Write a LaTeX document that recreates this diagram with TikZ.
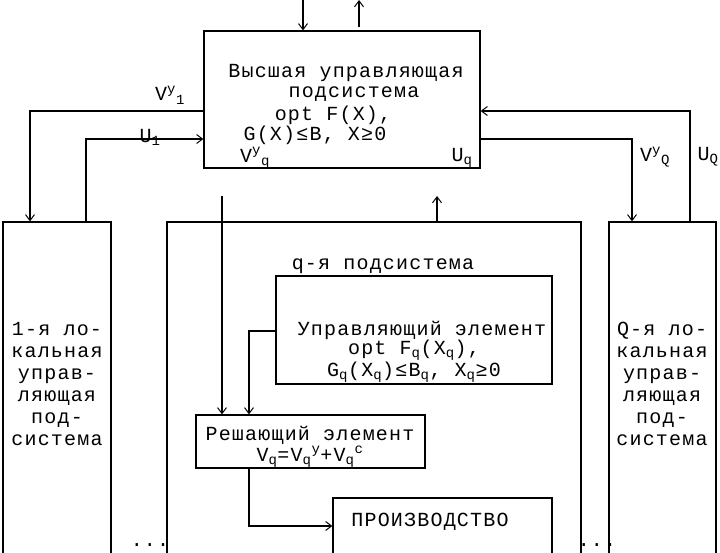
\documentclass[tikz,border=0pt]{standalone}
\usepackage{fontspec}
\setmainfont{Liberation Mono}[LetterSpace=6]
\usetikzlibrary{arrows.meta,calc}
\begin{document}
\begin{tikzpicture}[x=1pt,y=-1pt,line width=1.2pt,
  box/.style={draw,rectangle,inner sep=0pt},
  txt/.style={inner sep=0pt,font=\fontsize{20}{22}\selectfont,align=center},
  arr/.style={-{Straight Barb[length=6pt,width=9pt,line width=1pt]}}]
\useasboundingbox (0,0) rectangle (720,553);
\clip (0,0) rectangle (720,553);
\node[box,minimum width=276pt,minimum height=137pt] (top) at (342,99.5) {};
\node[box,minimum width=108pt,minimum height=360pt] (L) at (57,402) {};
\node[box,minimum width=107pt,minimum height=360pt] (R) at (662.5,402) {};
\node[box,minimum width=414pt,minimum height=360pt] (M) at (374,402) {};
\node[box,minimum width=276pt,minimum height=108pt] (C) at (414,330) {};
\node[box,minimum width=229pt,minimum height=53pt] (D) at (310.5,441.5) {};
\node[box,minimum width=219pt,minimum height=80pt] (P) at (442.5,538) {};
% texts
\node[txt] (t1) at (346,73) {Высшая управляющая};
\node[txt] (t2) at (354,94) {подсистема};
\node[txt] (t3) at (333,115) {opt F(X),};
\node[txt] (t4) at (315,135) {G(X)≤B, X≥0};
\node[txt] (vy1) at (170,95) {V\textsuperscript{y}\textsubscript{1}};
\node[txt] (u1) at (150,137) {U\textsubscript{1}};
\node[txt] (vyq) at (255,158) {V\textsuperscript{y}\textsubscript{q}};
\node[txt] (uq) at (462,158) {U\textsubscript{q}};
\node[txt] (vyQ) at (655,157) {V\textsuperscript{y}\textsubscript{Q}};
\node[txt] (uQ) at (708,157) {U\textsubscript{Q}};
\node[txt] (lt) at (57,384) {1-я ло-\\кальная\\управ-\\ляющая\\под-\\система};
\node[txt] (rt) at (662,384) {Q-я ло-\\кальная\\управ-\\ляющая\\под-\\система};
\node[txt] (qs) at (383,266) {q-я подсистема};
\node[txt] (c1) at (422,330) {Управляющий элемент};
\node[txt] (c2) at (414,350) {opt F\textsubscript{q}(X\textsubscript{q}),};
\node[txt] (c3) at (414,372) {G\textsubscript{q}(X\textsubscript{q})≤B\textsubscript{q}, X\textsubscript{q}≥0};
\node[txt] (d1) at (310,435) {Решающий элемент};
\node[txt] (d2) at (310,457) {V\textsubscript{q}=V\textsubscript{q}\textsuperscript{y}+V\textsubscript{q}\textsuperscript{c}};
\node[txt] (p1) at (430,522) {ПРОИЗВОДСТВО};
\node[txt] (dl) at (150,545) {...};
\node[txt] (dr) at (597,545) {...};
% coordinates
\coordinate (in0) at (303,0);
\coordinate (out0) at (359,0);
\coordinate (a1) at (30,111);
\coordinate (b1) at (86,139);
\coordinate (aQ) at (690,111);
\coordinate (bQ) at (632,139);
\coordinate (m1) at (222,196);
\coordinate (m2) at (437,196);
\coordinate (c4) at (249,331);
\coordinate (d4) at (249,526);
% connectors
\draw[arr] (in0) -- (in0|-top.north);
\draw[arr] (out0|-top.north) ++(0,-3) -- (out0);
\draw[arr] (top.west|-a1) -- (a1) -- (a1|-L.north);
\draw[arr] (b1|-L.north) -- (b1) -- (top.west|-b1);
\draw[arr] (aQ|-R.north) -- (aQ) -- (top.east|-aQ);
\draw[arr] (top.east|-bQ) -- (bQ) -- (bQ|-R.north);
\draw[arr] (m1) -- (m1|-D.north);
\draw[arr] (m2|-M.north) -- (m2);
\draw[arr] (C.west|-c4) -- (c4) -- (c4|-D.north);
\draw[arr] (c4|-D.south) -- (d4) -- (P.west|-d4);
\end{tikzpicture}
\end{document}
